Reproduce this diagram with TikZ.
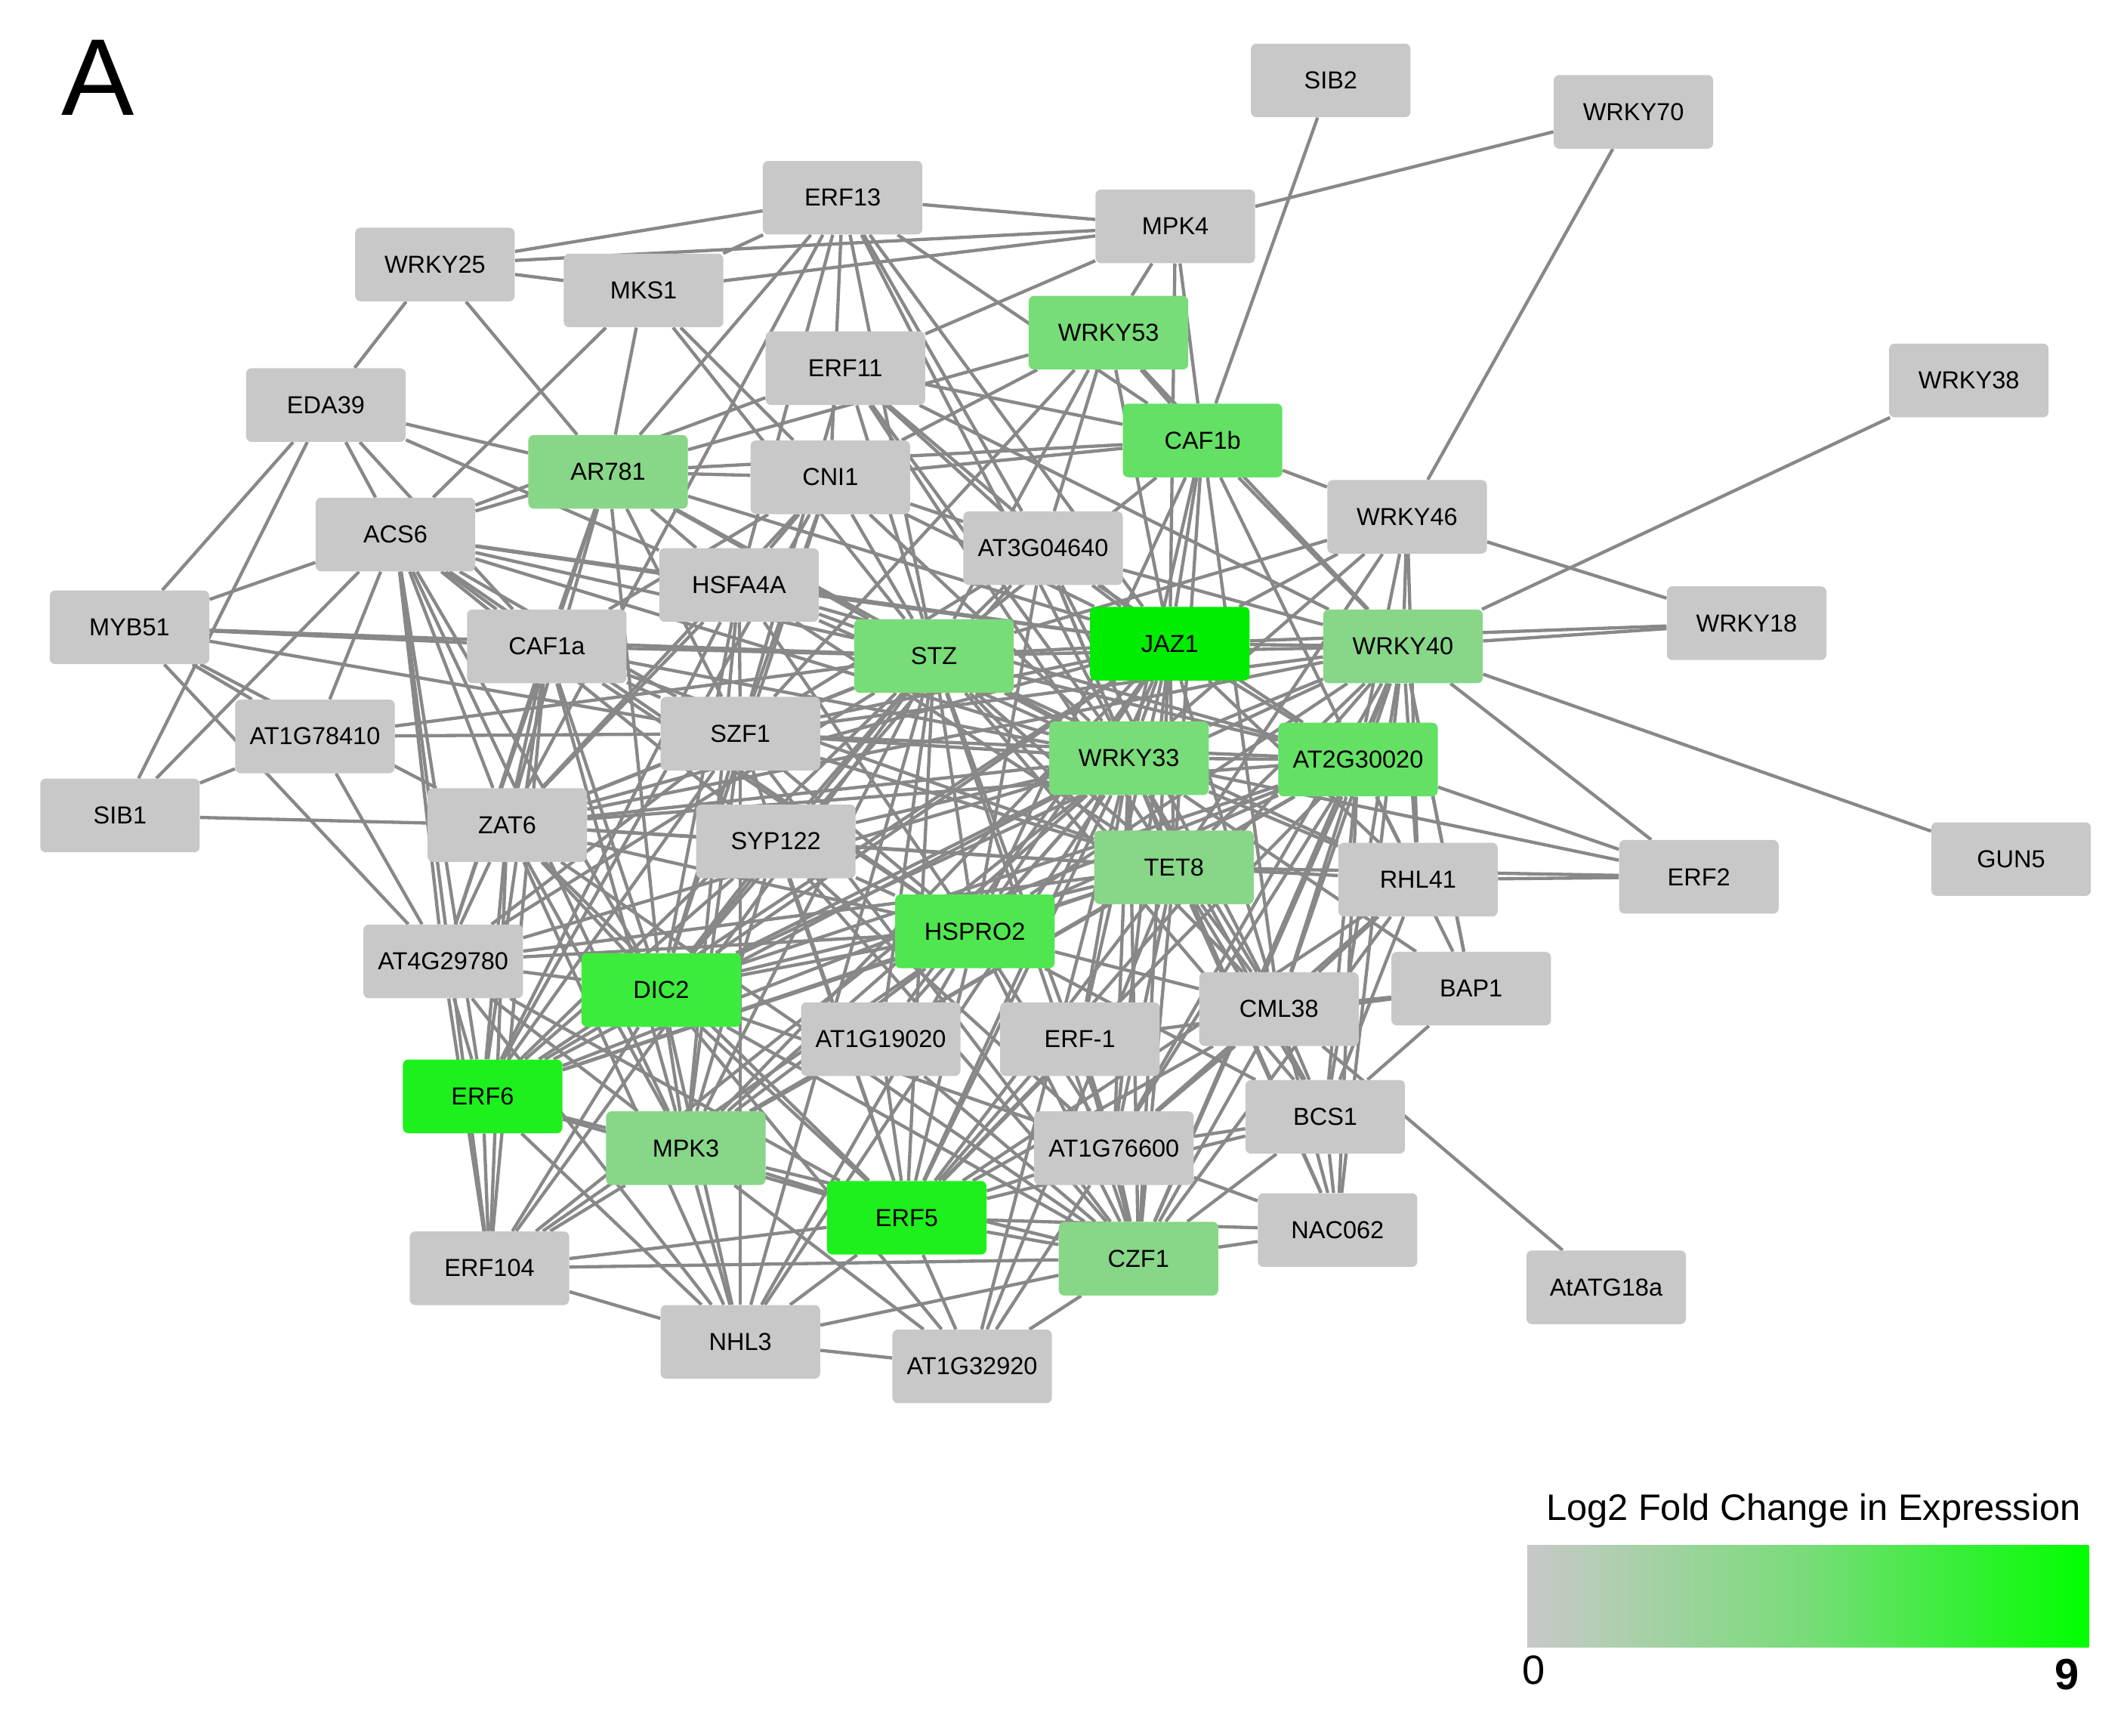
\documentclass[tikz,border=0pt]{standalone}
\usepackage{fontspec}
\setmainfont{Liberation Sans}
\usetikzlibrary{backgrounds}
\definecolor{ng}{RGB}{200,200,200}
\definecolor{eg}{RGB}{136,136,136}
\definecolor{gA}{RGB}{136,214,136}
\definecolor{gB}{RGB}{120,220,120}
\definecolor{gC}{RGB}{100,224,100}
\definecolor{gD}{RGB}{80,230,80}
\definecolor{gE}{RGB}{60,236,60}
\definecolor{gF}{RGB}{30,240,30}
\definecolor{gG}{RGB}{0,236,0}
\begin{document}
\begin{tikzpicture}[x=1pt,y=-1pt,
  nd/.style={draw=none,fill=ng,rounded corners=4pt,minimum width=117pt,minimum height=54pt,inner sep=0pt,font=\fontsize{18}{20}\selectfont},
  ed/.style={draw=eg,line width=2.4pt}]
\useasboundingbox (0,0) rectangle (1560,1273);
\node at (72,57) {\fontsize{80}{80}\selectfont A};
\foreach \n/\t/\x/\y/\c in {
SIBtwo/SIB2/976/59/ng, WRKYseventy/WRKY70/1198/82/ng, ERFthirteen/ERF13/618/145/ng,
MPKfour/MPK4/862/166/ng, WRKYtwentyfive/WRKY25/319/194/ng, MKSone/MKS1/472/213/ng,
WRKYfiftythree/WRKY53/813/244/gB, ERFeleven/ERF11/620/270/ng, WRKYthirtyeight/WRKY38/1444/279/ng,
EDA/EDA39/239/297/ng, CAFb/CAF1b/882/323/gC, AR/AR781/446/346/gA, CNI/CNI1/609/350/ng,
WRKYfortysix/WRKY46/1032/379/ng, ACS/ACS6/290/392/ng, ATthree/AT3G04640/765/402/ng,
HSF/HSFA4A/542/429/ng, WRKYeighteen/WRKY18/1281/457/ng, MYB/MYB51/95/460/ng,
JAZ/JAZ1/858/472/gG, CAFa/CAF1a/401/474/ng, STZ/STZ/685/481/gB, WRKYforty/WRKY40/1029/474/gA,
ATseven/AT1G78410/231/540/ng, SZF/SZF1/543/538/ng, WRKYthirtythree/WRKY33/828/556/gB,
ATtwo/AT2G30020/996/557/gC, SIBone/SIB1/88/598/ng, ZAT/ZAT6/372/605/ng, SYP/SYP122/569/617/ng,
TET/TET8/861/636/gA, GUN/GUN5/1475/630/ng, RHL/RHL41/1040/645/ng, ERFtwo/ERF2/1246/643/ng,
HSP/HSPRO2/715/683/gD, ATfour/AT4G29780/325/705/ng, DIC/DIC2/485/726/gE, BAP/BAP1/1079/725/ng,
CML/CML38/938/740/ng, ATnineteen/AT1G19020/646/762/ng, ERFm/ERF-1/792/762/ng, ERFsix/ERF6/354/804/gF,
BCS/BCS1/972/819/ng, MPKthree/MPK3/503/842/gA, ATsix/AT1G76600/817/842/ng, ERFfive/ERF5/665/893/gF,
NAC/NAC062/981/902/ng, CZF/CZF1/835/923/gA, ERFonefour/ERF104/359/930/ng, ATG/AtATG18a/1178/944/ng,
NHL/NHL3/543/984/ng, ATthirtytwo/AT1G32920/713/1002/ng}
{\node[nd,fill=\c] (\n) at (\x,\y) {\t};}
\begin{scope}[on background layer]
\foreach \a/\l in {
SIBtwo/{CAFb}, WRKYseventy/{MPKfour,WRKYfortysix}, WRKYthirtyeight/{WRKYforty},
WRKYeighteen/{WRKYfortysix,WRKYforty,JAZ}, GUN/{WRKYforty},
ERFtwo/{WRKYforty,ATtwo,RHL,TET,WRKYthirtythree}, ATG/{CML},
BAP/{WRKYforty,ATtwo,BCS,ERFm,CML,WRKYthirtythree},
MPKfour/{ERFthirteen,WRKYtwentyfive,MKSone,CAFb,WRKYfiftythree,ERFeleven,JAZ},
WRKYtwentyfive/{MKSone,EDA,AR,ERFthirteen},
MKSone/{ERFthirteen,ACS,AR,CNI,STZ},
EDA/{MYB,SIBone,ACS,AR,CAFa,HSF},
MYB/{ACS,CAFa,ATseven,STZ,ATfour,ZAT,SZF},
SIBone/{ACS,ATseven,ZAT},
ATseven/{ACS,ATfour,SZF,STZ},
ERFthirteen/{CNI,AR,STZ,JAZ,WRKYthirtythree,HSF,ATthree,ZAT,CAFb},
ERFeleven/{STZ,JAZ,CAFb,WRKYthirtythree,ACS,ATthree,WRKYforty,SZF,TET},
WRKYfiftythree/{CAFb,STZ,AR,WRKYforty,CNI,ATthree,JAZ,SZF},
CAFb/{STZ,JAZ,WRKYforty,WRKYthirtythree,ATtwo,TET,CNI,AR,HSP,WRKYfortysix,CML},
WRKYfortysix/{WRKYforty,JAZ,STZ,ATtwo,WRKYthirtythree,RHL,TET},
AR/{ACS,STZ,CAFa,ZAT,DIC,SZF,HSF,CNI,WRKYthirtythree,ATfour,JAZ},
CNI/{STZ,JAZ,ATthree,ZAT,SZF,HSF,DIC,WRKYthirtythree,CAFa,ERFsix},
ACS/{STZ,JAZ,CAFa,ZAT,DIC,ATfour,SZF,HSF,ERFsix,ERFonefour,WRKYthirtythree,MPKthree,SYP,HSP},
ATthree/{STZ,JAZ,WRKYforty,WRKYthirtythree,TET,ATtwo,HSP,DIC,SZF,CML},
HSF/{STZ,JAZ,WRKYthirtythree,ZAT,SZF,TET,DIC,HSP,ATtwo,ERFsix,MPKthree},
JAZ/{STZ,WRKYforty,WRKYthirtythree,ATtwo,TET,HSP,ZAT,DIC,SZF,ERFsix,ERFfive,MPKthree,CZF,RHL,CML,ATsix,ATnineteen,ERFm},
CAFa/{STZ,ZAT,DIC,ERFsix,SZF,WRKYthirtythree,MPKthree,ERFonefour,HSP,TET,ATfour},
STZ/{WRKYforty,WRKYthirtythree,ATtwo,TET,HSP,ZAT,DIC,SZF,ERFsix,ERFfive,MPKthree,CZF,ATsix,ATnineteen,SYP,ATfour,NHL,ERFonefour,CML,RHL,BCS},
WRKYforty/{WRKYthirtythree,ATtwo,TET,HSP,RHL,CML,BAP,DIC,ERFfive,CZF,ATsix,SZF,NAC,BCS,ZAT},
SZF/{WRKYthirtythree,ZAT,DIC,ERFsix,ERFfive,MPKthree,HSP,TET,ATtwo,ATfour,CZF,NHL},
WRKYthirtythree/{ATtwo,TET,HSP,ZAT,DIC,ERFsix,ERFfive,MPKthree,CZF,ATsix,ATnineteen,SYP,ATfour,NHL,ERFonefour,CML,RHL,BCS,NAC,ATthirtytwo,ERFm},
ATtwo/{TET,HSP,DIC,ERFfive,CZF,ATsix,CML,RHL,BCS,NAC,MPKthree,ZAT,ERFsix},
ZAT/{ATfour,DIC,ERFsix,MPKthree,ERFonefour,HSP,TET,ERFfive,SYP,NHL,CZF},
SYP/{HSP,DIC,TET,ERFfive,MPKthree,ERFsix,CZF,ATsix},
TET/{HSP,DIC,ERFfive,CZF,ATsix,CML,RHL,BCS,NAC,MPKthree,ERFsix,ATfour,ATthirtytwo},
HSP/{DIC,ERFfive,CZF,ATsix,MPKthree,ERFsix,ATfour,NHL,CML,BCS,ERFonefour},
ATfour/{DIC,ERFsix,MPKthree,ERFonefour,ERFfive,NHL},
DIC/{ERFsix,MPKthree,ERFfive,CZF,NHL,ERFonefour,ATthirtytwo,ATsix},
RHL/{CML,CZF,ATsix,BCS,ERFfive},
CML/{ATsix,CZF,NAC,BCS,ERFfive},
ERFm/{CZF,ATsix,ERFfive},
ATnineteen/{ERFfive,MPKthree,CZF},
ERFsix/{MPKthree,ERFonefour,ERFfive,NHL},
BCS/{CZF,ATsix,NAC,ERFfive},
MPKthree/{ERFfive,NHL,ERFonefour,CZF,ATthirtytwo},
ATsix/{CZF,NAC,ERFfive,ATthirtytwo},
ERFfive/{CZF,NHL,ERFonefour,ATthirtytwo,NAC},
CZF/{NAC,ATthirtytwo,NHL},
ERFonefour/{NHL,CZF}, NHL/{ATthirtytwo}}
{\foreach \b in \l {\draw[ed] (\a) -- (\b);}}
\end{scope}
\node[anchor=south] at (1330,1124) {\fontsize{27}{29}\selectfont Log2 Fold Change in Expression};
\shade[left color=ng,right color=green,middle color=gB] (1120,1133) rectangle (1532,1208);
\node at (1125,1225) {\fontsize{30}{32}\selectfont 0};
\node at (1516,1228) {\fontsize{32}{34}\selectfont\bfseries 9};
\end{tikzpicture}
\end{document}
